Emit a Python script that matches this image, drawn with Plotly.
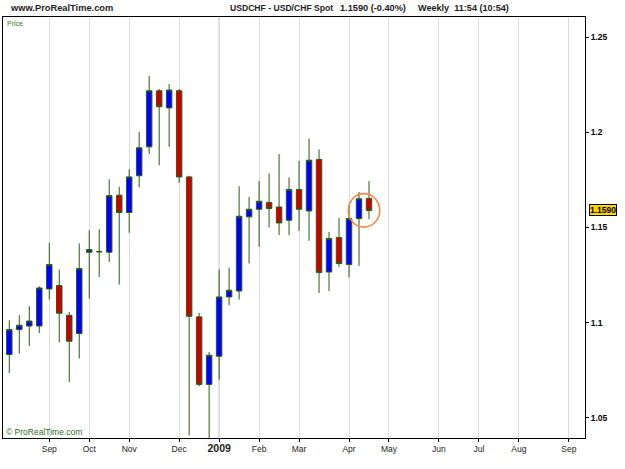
import pandas as pd
import plotly.graph_objects as go

# Weekly bars (week starting Sunday)
dates = pd.date_range("2008-08-10", periods=37, freq="7D")
opens = [1.0832, 1.0963, 1.0982, 1.0982, 1.1177, 1.1195, 1.1038, 1.0942, 1.1370, 1.1372,
         1.1370, 1.1670, 1.1579, 1.1772, 1.1924, 1.2219, 1.2129, 1.2219, 1.1766, 1.1030,
         1.0675, 1.0823, 1.1135, 1.1166, 1.1556, 1.1596, 1.1632, 1.1608, 1.1538, 1.1700,
         1.1587, 1.1858, 1.1266, 1.1447, 1.1305, 1.1547, 1.1653]
highs = [1.1012, 1.1038, 1.1086, 1.1191, 1.1419, 1.1279, 1.1056, 1.1416, 1.1486, 1.1491,
         1.1753, 1.1714, 1.1807, 1.2003, 1.2298, 1.2228, 1.2254, 1.2228, 1.1772, 1.1051,
         1.0845, 1.1279, 1.1289, 1.1717, 1.1661, 1.1745, 1.1784, 1.1886, 1.1763, 1.1851,
         1.1968, 1.1911, 1.1477, 1.1551, 1.1617, 1.1687, 1.1744]
lows = [1.0735, 1.0837, 1.0877, 1.0945, 1.1121, 1.0896, 1.0687, 1.0811, 1.1126, 1.1240,
        1.1319, 1.1200, 1.1472, 1.1711, 1.1886, 1.1828, 1.1924, 1.1735, 1.0407, 1.0665,
        1.0370, 1.0700, 1.1091, 1.1121, 1.1311, 1.1398, 1.1500, 1.1460, 1.1460, 1.1482,
        1.1430, 1.1156, 1.1166, 1.1293, 1.1237, 1.1298, 1.1544]
closes = [1.0963, 1.0986, 1.1008, 1.1182, 1.1305, 1.1049, 1.0902, 1.1284, 1.1384, 1.1373,
          1.1668, 1.1579, 1.1766, 1.1919, 1.2219, 1.2135, 1.2223, 1.1766, 1.1033, 1.0675,
          1.0828, 1.1135, 1.1170, 1.1559, 1.1596, 1.1638, 1.1600, 1.1524, 1.1700, 1.1596,
          1.1854, 1.1263, 1.1442, 1.1311, 1.1547, 1.1651, 1.1590]

tick_dates = ["2008-09-07", "2008-10-05", "2008-11-02", "2008-12-07", "2009-01-04",
              "2009-02-01", "2009-03-01", "2009-04-05", "2009-05-03", "2009-06-07",
              "2009-07-05", "2009-08-02", "2009-09-06"]
tick_labels = ["Sep", "Oct", "Nov", "Dec",
               "<span style='font-size:10.5px;font-weight:bold'><b>2009</b></span>",
               "Feb", "Mar", "Apr", "May", "Jun", "Jul", "Aug", "Sep"]
y_ticks = [1.05, 1.10, 1.15, 1.20, 1.25]
y_tick_labels = ["1.05", "1.1", "1.15", "1.2", "1.25"]
last_price = 1.1590

W, H = 625, 469
ML, MR, MT, MB = 3, 40, 17, 31
PW, PH = W - ML - MR, H - MT - MB


def px(xpix):
    return (xpix - ML) / PW


def py(ypix):
    return 1 - (ypix - MT) / PH


fig = go.Figure()
fig.add_trace(go.Candlestick(
    x=dates, open=opens, high=highs, low=lows, close=closes,
    increasing=dict(fillcolor="#0000FF", line=dict(color="#2b5a16", width=1)),
    decreasing=dict(fillcolor="#CC0000", line=dict(color="#2b5a16", width=1)),
    whiskerwidth=0, hoverinfo="skip", showlegend=False,
))

# highlight circle around the last two bars
cx = dates[35] + (dates[36] - dates[35]) / 2
rx = pd.Timedelta(days=11.0)
ry = 0.0088
cy = closes[36]
fig.add_shape(type="circle", xref="x", yref="y",
              x0=cx - rx, x1=cx + rx, y0=cy - ry, y1=cy + ry,
              line=dict(color="#F5894A", width=1.6))

# darker year separator
fig.add_shape(type="line", xref="x", yref="paper", x0=tick_dates[4], x1=tick_dates[4],
              y0=0, y1=1, line=dict(color="#b8b8b8", width=1), layer="below")

font = "Liberation Sans, Arial, sans-serif"
fig.update_layout(
    width=W, height=H,
    margin=dict(l=ML, r=MR, t=MT, b=MB),
    paper_bgcolor="white", plot_bgcolor="white",
    boxgap=0.22,
    showlegend=False,
    hovermode=False,
    font=dict(family=font, size=8, color="#222222"),
    xaxis=dict(
        type="date",
        range=["2008-08-05 14:00", "2009-09-17 08:00"],
        tickmode="array", tickvals=tick_dates, ticktext=tick_labels,
        showgrid=True, gridcolor="#dcdcdc", gridwidth=1,
        ticks="outside", ticklen=3, tickcolor="#000000",
        showline=True, linecolor="#000000", linewidth=1, mirror=True,
        rangeslider=dict(visible=False),
        tickfont=dict(size=8.5, color="#222222", family=font),
        zeroline=False,
    ),
    yaxis=dict(
        side="right",
        range=[1.0393, 1.2607],
        tickmode="array", tickvals=y_ticks, ticktext=y_tick_labels,
        showgrid=False,
        ticks="outside", ticklen=3, tickcolor="#000000",
        showline=True, linecolor="#000000", linewidth=1, mirror=True,
        tickfont=dict(size=8.5, color="#000000", family=font, weight="bold"),
        zeroline=False,
    ),
)

# header texts
hdr = dict(xref="paper", yref="paper", xanchor="left", yanchor="middle", showarrow=False)
fig.add_annotation(x=px(8), y=py(8), text="<b>www.ProRealTime.com</b>",
                   font=dict(size=9.3, color="#222222", family=font), **hdr)
fig.add_annotation(x=px(228), y=py(8), text="<b>USDCHF - USD/CHF Spot</b>",
                   font=dict(size=8.6, color="#222222", family=font), **hdr)
fig.add_annotation(x=px(338), y=py(8), text="<b>1.1590 (-0.40%)</b>",
                   font=dict(size=9.2, color="#222222", family=font), **hdr)
fig.add_annotation(x=px(416), y=py(8), text="<b>Weekly  11:54 (10:54)</b>",
                   font=dict(size=9.1, color="#222222", family=font), **hdr)

# panel labels
fig.add_annotation(x=px(5), y=py(23), xref="paper", yref="paper",
                   xanchor="left", yanchor="middle", showarrow=False,
                   text="Price", font=dict(size=7, color="#2e7d1f", family=font))
fig.add_annotation(x=px(4), y=py(432), xref="paper", yref="paper",
                   xanchor="left", yanchor="middle", showarrow=False,
                   text="© ProRealTime.com", font=dict(size=8.5, color="#2e6b1a", family=font))

# last price tag on the right axis
fig.add_annotation(x=1.0, xshift=4, y=last_price, xref="paper", yref="y",
                   xanchor="left", yanchor="middle", showarrow=False,
                   text="<b>1.1590</b>", bgcolor="#FFD200", bordercolor="#000000",
                   borderwidth=1, borderpad=0,
                   font=dict(size=8.5, color="#000000", family=font))

fig.write_html("out.html")
